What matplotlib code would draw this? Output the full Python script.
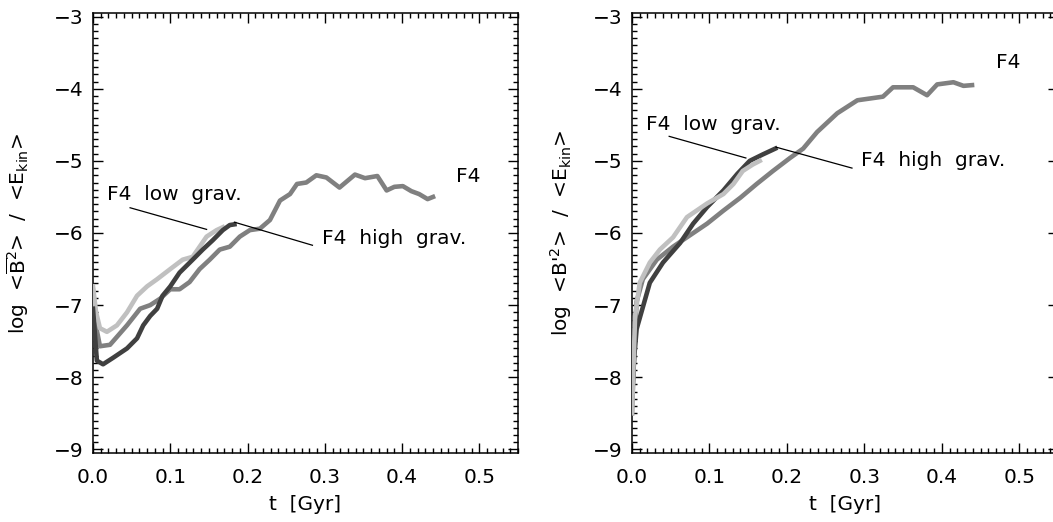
import matplotlib
matplotlib.use("Agg")
import matplotlib.pyplot as plt
from matplotlib.ticker import MultipleLocator

plt.rcParams['font.family'] = ['DejaVu Sans']
plt.rcParams['mathtext.fontset'] = 'dejavusans'

# ---- Left panel data (log <B̄²>/<E_kin>) ----
L_f4_t = [0.0, 0.004, 0.009, 0.022, 0.044, 0.061, 0.074, 0.087, 0.1, 0.112, 0.125, 0.138,
          0.151, 0.164, 0.177, 0.19, 0.203, 0.216, 0.229, 0.242, 0.255, 0.264, 0.276, 0.289,
          0.302, 0.319, 0.339, 0.352, 0.368, 0.38, 0.39, 0.401, 0.412, 0.422, 0.433, 0.44]
L_f4_v = [-6.8, -7.3, -7.57, -7.55, -7.28, -7.05, -7.0, -6.91, -6.78, -6.78, -6.68, -6.5,
          -6.37, -6.23, -6.19, -6.05, -5.96, -5.94, -5.82, -5.55, -5.46, -5.32, -5.3, -5.2,
          -5.23, -5.37, -5.19, -5.24, -5.21, -5.41, -5.36, -5.35, -5.42, -5.46, -5.53, -5.5]

L_low_t = [0.0, 0.004, 0.009, 0.018, 0.031, 0.044, 0.057, 0.07, 0.083, 0.1, 0.116, 0.129,
           0.138, 0.147, 0.16, 0.168]
L_low_v = [-6.74, -7.1, -7.32, -7.37, -7.28, -7.1, -6.87, -6.74, -6.64, -6.5, -6.37, -6.33,
           -6.19, -6.05, -5.96, -5.92]

L_high_t = [0.0, 0.005, 0.013, 0.026, 0.044, 0.057, 0.065, 0.074, 0.083, 0.09, 0.1, 0.112,
            0.129, 0.142, 0.155, 0.168, 0.177, 0.183]
L_high_v = [-7.05, -7.77, -7.82, -7.73, -7.6, -7.46, -7.28, -7.15, -7.05, -6.87, -6.74, -6.55,
            -6.37, -6.23, -6.1, -5.96, -5.89, -5.88]

# ---- Right panel data (log <B'²>/<E_kin>) ----
R_f4_t = [0.0, 0.003, 0.006, 0.014, 0.032, 0.053, 0.075, 0.097, 0.118, 0.14, 0.161, 0.182,
          0.204, 0.221, 0.239, 0.265, 0.291, 0.324, 0.337, 0.363, 0.381, 0.394, 0.415, 0.428, 0.439]
R_f4_v = [-8.5, -7.6, -6.95, -6.64, -6.37, -6.19, -6.03, -5.87, -5.69, -5.51, -5.32, -5.14,
          -4.96, -4.83, -4.6, -4.34, -4.16, -4.11, -3.98, -3.98, -4.09, -3.94, -3.91, -3.96, -3.95]

R_low_t = [0.0, 0.004, 0.01, 0.023, 0.036, 0.053, 0.071, 0.097, 0.118, 0.131, 0.143, 0.156, 0.165]
R_low_v = [-8.5, -7.15, -6.69, -6.41, -6.23, -6.06, -5.78, -5.59, -5.46, -5.32, -5.14, -5.05, -5.0]

R_high_t = [0.0, 0.003, 0.006, 0.023, 0.04, 0.062, 0.079, 0.097, 0.118, 0.136, 0.152, 0.169, 0.185]
R_high_v = [-8.3, -7.7, -7.33, -6.69, -6.41, -6.14, -5.87, -5.64, -5.41, -5.18, -5.0, -4.91, -4.83]

xticks = [0.0, 0.1, 0.2, 0.3, 0.4, 0.5]
xticklabels = ['0.0', '0.1', '0.2', '0.3', '0.4', '0.5']
yticks = [-9, -8, -7, -6, -5, -4, -3]

c_light, c_mid, c_dark = '#c0c0c0', '#808080', '#404040'
FS = 14.5

fig = plt.figure(figsize=(10.53, 5.22), dpi=100)
axL = fig.add_axes([93/1053, 69/522, 425/1053, 440/522])
axR = fig.add_axes([632/1053, 69/522, 426/1053, 440/522])

def style(ax):
    ax.set_xlim(0, 0.55)
    ax.set_ylim(-9.05, -2.95)
    ax.set_xticks(xticks)
    ax.set_xticklabels(xticklabels)
    ax.set_yticks(yticks)
    ax.xaxis.set_minor_locator(MultipleLocator(0.01))
    ax.yaxis.set_minor_locator(MultipleLocator(0.1))
    ax.tick_params(which='both', direction='in', top=True, right=True, width=1.0, colors='black')
    ax.tick_params(which='major', length=7)
    ax.tick_params(which='minor', length=3.5)
    ax.tick_params(axis='x', which='major', pad=11, labelsize=FS)
    ax.tick_params(axis='y', which='major', pad=7, labelsize=FS)
    for s in ax.spines.values():
        s.set_linewidth(1.1)
    ax.set_xlabel('t  [Gyr]', fontsize=FS)
    ax.xaxis.set_label_coords(0.5, -0.095)

lw = 3.3
axL.plot(L_f4_t, L_f4_v, color=c_mid, lw=lw, zorder=2)
axL.plot(L_low_t, L_low_v, color=c_light, lw=lw, zorder=3)
axL.plot(L_high_t, L_high_v, color=c_dark, lw=lw, zorder=4)
style(axL)
axL.set_ylabel(r'log  <$\overline{\rm B}^2$>  /  <E$_{\rm kin}$>', fontsize=FS)
axL.yaxis.set_label_coords(-0.145, 0.5)
axL.text(0.47, -5.21, 'F4', fontsize=FS, va='center', ha='left')
axL.text(0.296, -6.07, 'F4  high  grav.', fontsize=FS, va='center', ha='left')
axL.text(0.018, -5.46, 'F4  low  grav.', fontsize=FS, va='center', ha='left')
axL.plot([0.048, 0.147], [-5.65, -5.95], color='black', lw=0.9, zorder=5)
axL.plot([0.183, 0.284], [-5.85, -6.17], color='black', lw=0.9, zorder=5)

axR.plot(R_f4_t, R_f4_v, color=c_mid, lw=lw, zorder=2)
axR.plot(R_high_t, R_high_v, color=c_dark, lw=lw, zorder=3)
axR.plot(R_low_t, R_low_v, color=c_light, lw=lw, zorder=4)
style(axR)
axR.set_ylabel(r"log  <B'$^2$>  /  <E$_{\rm kin}$>", fontsize=FS)
axR.yaxis.set_label_coords(-0.135, 0.5)
axR.text(0.47, -3.63, 'F4', fontsize=FS, va='center', ha='left')
axR.text(0.296, -5.0, 'F4  high  grav.', fontsize=FS, va='center', ha='left')
axR.text(0.018, -4.49, 'F4  low  grav.', fontsize=FS, va='center', ha='left')
axR.plot([0.048, 0.147], [-4.66, -4.96], color='black', lw=0.9, zorder=5)
axR.plot([0.186, 0.284], [-4.81, -5.10], color='black', lw=0.9, zorder=5)

fig.savefig('out.png', dpi=100)
